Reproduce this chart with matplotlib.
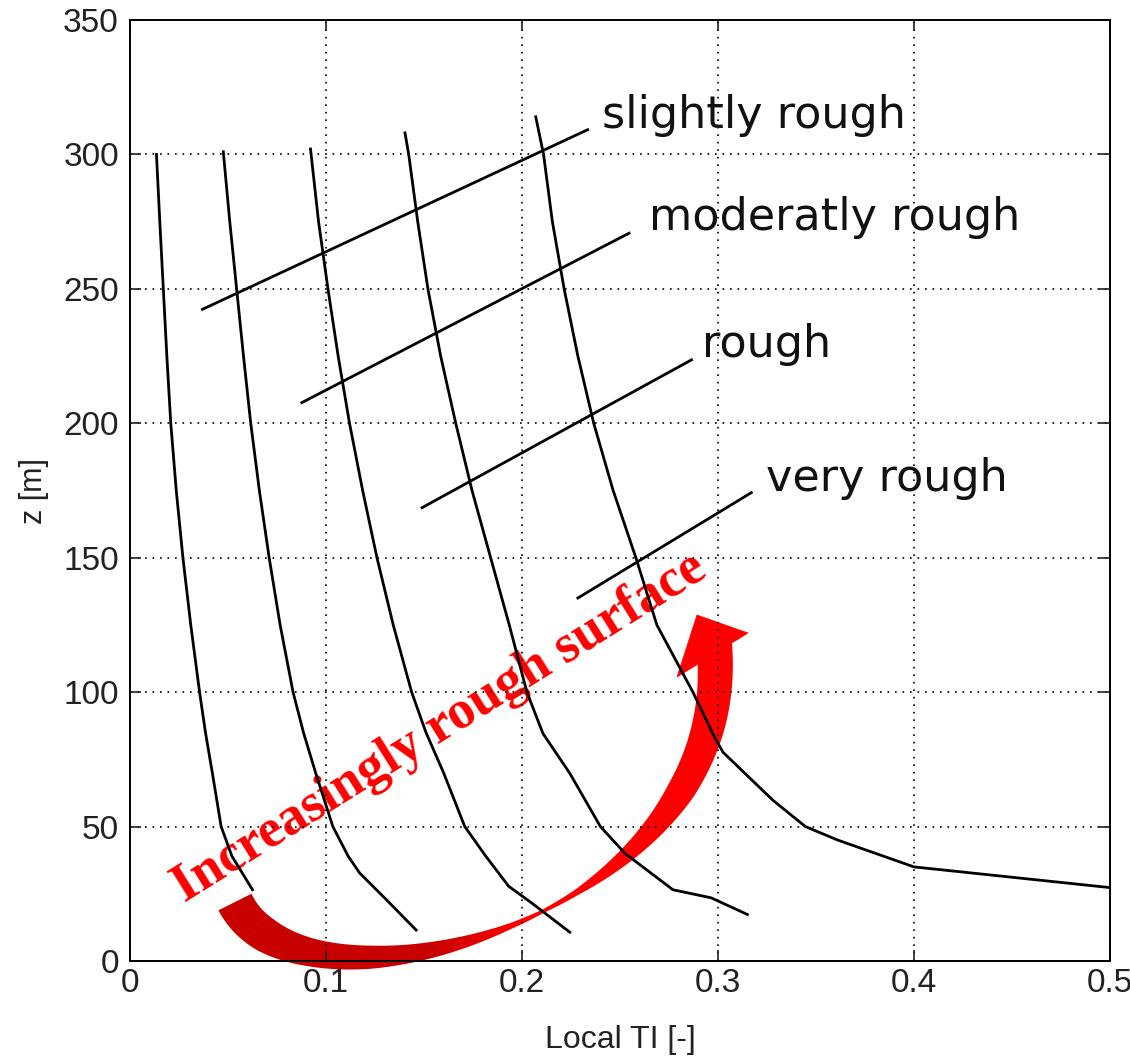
import numpy as np
import matplotlib
matplotlib.use("Agg")
import matplotlib.pyplot as plt
from matplotlib.patches import Polygon
from matplotlib.colors import LinearSegmentedColormap

plt.rcParams['font.family'] = ['Liberation Sans', 'DejaVu Sans']

# TI profiles (z in m, local TI)
z_1 = [300, 275, 250, 225, 200, 175, 150, 125, 100, 85, 70, 50, 39, 26.5]
ti_1 = [0.0135, 0.0152, 0.017, 0.0188, 0.0208, 0.0236, 0.027, 0.031, 0.0355, 0.0385, 0.042, 0.0465, 0.052, 0.0625]
z_2 = [301, 275, 250, 225, 200, 175, 150, 125, 100, 85, 70, 50, 39, 32.7, 22.8, 11.5]
ti_2 = [0.0476, 0.0509, 0.0544, 0.0579, 0.0616, 0.066, 0.071, 0.0766, 0.0832, 0.0885, 0.0947, 0.1035, 0.1113, 0.1172, 0.1308, 0.146]
z_3 = [302, 275, 250, 225, 200, 175, 150, 125, 100, 85, 70, 50, 39, 27.8, 21.6, 10.7]
ti_3 = [0.0921, 0.0962, 0.101, 0.1062, 0.112, 0.1187, 0.126, 0.1343, 0.1437, 0.151, 0.16, 0.1708, 0.1815, 0.1932, 0.2049, 0.2244]
z_4 = [308, 300, 275, 250, 225, 200, 175, 150, 125, 100, 84.6, 69.8, 50, 40, 26.5, 23.5, 17.3]
ti_4 = [0.1403, 0.1422, 0.1468, 0.152, 0.1585, 0.1662, 0.1745, 0.184, 0.1935, 0.2025, 0.2107, 0.2244, 0.24, 0.2526, 0.277, 0.2965, 0.315]
z_5 = [314, 300, 275, 250, 225, 200, 175, 150, 125, 100, 83, 77.6, 59.8, 50, 45, 35, 27.3]
ti_5 = [0.207, 0.211, 0.2155, 0.2215, 0.2285, 0.2366, 0.2465, 0.2581, 0.2688, 0.2872, 0.2984, 0.3026, 0.328, 0.3446, 0.361, 0.4, 0.5]

# roughness labels and their pointer lines
label_names = ["slightly rough", "moderatly rough", "rough", "very rough"]
line_x0 = [0.037, 0.0877, 0.149, 0.2285]
line_z0 = [242.4, 207.7, 168.6, 135.0]
line_x1 = [0.2335, 0.2546, 0.2865, 0.317]
line_z1 = [309.2, 270.7, 223.6, 174.2]
text_x = [0.2408, 0.2648, 0.2918, 0.3247]
text_z = [309.9, 271.9, 224.5, 174.7]

fig = plt.figure(figsize=(11.3, 10.58), dpi=100, facecolor='white')

# overlay in image pixels for the red arrow + text (drawn below the curves)
ov = fig.add_axes([0, 0, 1, 1], zorder=0)
ov.axis('off')

ax = fig.add_axes([130/1130, 97/1058, 980/1130, 941/1058], zorder=1)
ax.set_facecolor('none')

for ti, z in [(ti_1, z_1), (ti_2, z_2), (ti_3, z_3), (ti_4, z_4), (ti_5, z_5)]:
    ax.plot(ti, z, color='k', lw=2.0, solid_joinstyle='round')

for i in range(len(label_names)):
    ax.plot([line_x0[i], line_x1[i]], [line_z0[i], line_z1[i]], color='k', lw=2.0)
    ax.text(text_x[i], text_z[i], label_names[i], fontsize=32, family='DejaVu Sans',
            ha='left', va='baseline', color='#111111')

ax.set_xlim(0, 0.5)
ax.set_ylim(0, 350)
ax.set_xticks([0, 0.1, 0.2, 0.3, 0.4, 0.5])
ax.set_xticklabels(["0", "0.1", "0.2", "0.3", "0.4", "0.5"])
ax.set_yticks(np.arange(0, 351, 50))
ax.grid(True, color='k', linestyle=(0, (1, 3.5)), linewidth=1.2)
ax.tick_params(direction='in', top=True, right=True, length=8, width=1.2,
               labelsize=24, colors='#222222')
ax.tick_params(axis='x', pad=5)
ax.tick_params(axis='y', pad=8)
for s in ax.spines.values():
    s.set_linewidth(1.4)
ax.set_xlabel("Local TI [-]", fontsize=23, color='#222222', labelpad=19)
ax.set_ylabel("z [m]", fontsize=22, color='#222222', labelpad=10)


# curved red arrow: cubic centre line + varying width, in image pixels
def bezier(p, t):
    p = np.asarray(p, dtype=float)
    t = t[:, None]
    return ((1-t)**3)*p[0] + 3*((1-t)**2)*t*p[1] + 3*(1-t)*(t**2)*p[2] + (t**3)*p[3]

arrow_ctrl = [(235, 902), (300, 1035), (742, 920), (714, 645)]
arrow_t = [0, 0.1, 0.2, 0.3, 0.4, 0.5, 0.55, 0.6, 0.7, 0.8, 0.9, 1.0]
arrow_w = [37, 35, 28, 23, 15, 6, 3.5, 6, 17, 28, 33, 36]
head = [(677, 677), (748, 633), (697, 615)]

tt = np.linspace(0, 1, 300)
c = bezier(arrow_ctrl, tt)
w = np.interp(tt, arrow_t, arrow_w)
d = np.gradient(c, axis=0)
d /= np.linalg.norm(d, axis=1)[:, None]
nrm = np.column_stack([-d[:, 1], d[:, 0]])
side_a = c + nrm*w[:, None]/2
side_b = c - nrm*w[:, None]/2
shaft = Polygon(np.vstack([side_a, side_b[::-1]]), closed=True,
                facecolor='none', edgecolor='none')
ov.add_patch(shaft)

red_cmap = LinearSegmentedColormap.from_list('reds', ['#C80000', '#FF0000'])
xs = np.linspace(180, 770, 300)
grad = np.clip((xs - 430) / 100.0, 0, 1)
im = ov.imshow(grad[None, :], extent=(180, 770, 1000, 580), cmap=red_cmap,
               aspect='auto', vmin=0, vmax=1, interpolation='bilinear')
im.set_clip_path(shaft)
ov.add_patch(Polygon(head, closed=True, facecolor='#FF0000', edgecolor='#FF0000', lw=0.5))

ov.text(185, 903, "Increasingly rough surface", rotation=32, rotation_mode='anchor',
        ha='left', va='baseline', fontsize=39, fontweight='bold',
        family='Liberation Serif', color='#FF0000')

ov.set_xlim(0, 1130)
ov.set_ylim(1058, 0)

fig.savefig('out.png', dpi=100)
